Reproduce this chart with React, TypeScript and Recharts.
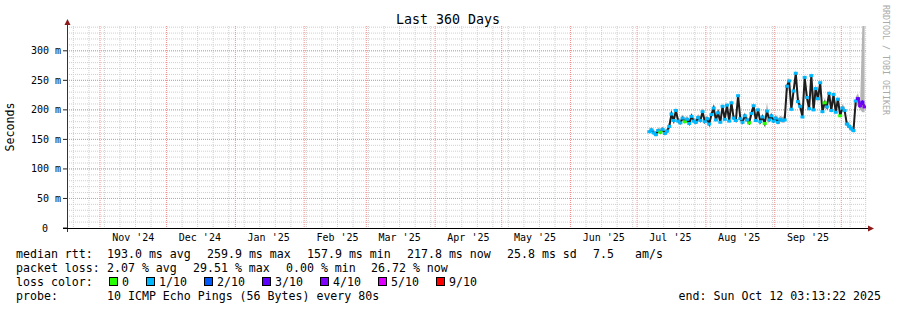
import React from 'react';
import { ComposedChart, XAxis, YAxis, Line, Area } from 'recharts';

const START = Date.UTC(2024, 9, 17, 3, 13, 22);
const END = Date.UTC(2025, 9, 12, 3, 13, 22);
const DAY = 86400000;
const FIRST_SAMPLE = Date.UTC(2025, 6, 6, 12);
const Y_MAX = 342;

// daily median rtt (ms), 2025-07-06 .. 2025-10-11
const medianRtt = [
  163, 166, 161, 158, 165, 162, 167, 160, 164, 172,
  193, 182, 199, 181, 178, 186, 180, 184, 177, 189,
  181, 179, 187, 182, 197, 180, 185, 176, 192, 203,
  183, 195, 179, 206, 184, 208, 181, 212, 186, 182,
  224, 185, 179, 190, 183, 178, 194, 207, 182, 200,
  180, 188, 177, 198, 183, 190, 181, 186, 179, 184,
  182, 183, 240, 249, 201, 232, 262, 214, 206, 188,
  255, 221, 202, 258, 200, 236, 219, 246, 197, 212,
  205, 228, 199, 226, 196, 218, 190, 203, 199, 176,
  172, 168, 165, 215, 219, 207, 213, 205,
];

// smoke (spread of the pings), upper and lower edge
const smokeHigh = [
  168, 171, 166, 164, 170, 168, 172, 166, 169, 180,
  199, 188, 205, 187, 184, 192, 186, 190, 183, 195,
  187, 185, 193, 188, 203, 186, 191, 182, 198, 209,
  189, 201, 185, 212, 190, 214, 187, 218, 192, 188,
  230, 191, 185, 196, 189, 184, 200, 213, 188, 206,
  186, 194, 183, 212, 189, 196, 187, 192, 185, 190,
  188, 190, 246, 255, 210, 240, 268, 222, 214, 196,
  261, 230, 210, 264, 230, 242, 228, 252, 206, 220,
  212, 234, 214, 232, 210, 224, 198, 210, 205, 182,
  178, 174, 171, 222, 228, 214, 342, 342,
];
const smokeLow = [
  159, 162, 157, 155, 161, 158, 163, 156, 160, 165,
  186, 178, 192, 177, 174, 182, 176, 180, 173, 184,
  177, 175, 182, 178, 190, 176, 181, 172, 187, 196,
  179, 190, 175, 199, 180, 200, 177, 204, 182, 178,
  214, 181, 175, 185, 179, 174, 189, 200, 178, 194,
  176, 183, 173, 192, 179, 185, 177, 182, 175, 180,
  178, 178, 228, 238, 196, 222, 250, 206, 200, 184,
  244, 212, 196, 246, 196, 226, 212, 236, 192, 206,
  200, 218, 194, 216, 192, 212, 186, 198, 194, 171,
  168, 164, 161, 205, 208, 200, 196, 196,
];

// packet loss per day, in tenths
const lossTenths = [
  1, 1, 1, 1, 1, 0, 1, 1, 1, 1,
  1, 1, 1, 1, 1, 1, 0, 1, 1, 1,
  1, 1, 1, 1, 1, 1, 1, 1, 1, 1,
  1, 1, 1, 1, 1, 1, 1, 1, 1, 1,
  1, 1, 1, 1, 1, 0, 1, 1, 1, 1,
  1, 1, 0, 1, 1, 1, 1, 1, 1, 1,
  1, 1, 1, 1, 1, 1, 1, 1, 1, 1,
  1, 1, 1, 1, 1, 1, 1, 1, 1, 0,
  1, 1, 1, 1, 1, 1, 0, 1, 1, 1,
  1, 1, 1, 1, 3, 4, 3, 4,
];

const lossColors: Record<number, string> = {
  0: '#26ff00', 1: '#00b8ff', 2: '#0059ff', 3: '#5e00ff', 4: '#7e00ff', 5: '#dd00ff', 9: '#ff0000',
};
const lossLegend = [
  { label: '0', tenths: 0 }, { label: '1/10', tenths: 1 }, { label: '2/10', tenths: 2 },
  { label: '3/10', tenths: 3 }, { label: '4/10', tenths: 4 }, { label: '5/10', tenths: 5 },
  { label: '9/10', tenths: 9 },
];

const monthStarts = [
  '2024-11-01', '2024-12-01', '2025-01-01', '2025-02-01', '2025-03-01', '2025-04-01',
  '2025-05-01', '2025-06-01', '2025-07-01', '2025-08-01', '2025-09-01', '2025-10-01',
];
const monthLabelDates = [
  '2024-11-16', '2024-12-16', '2025-01-16', '2025-02-16', '2025-03-16', '2025-04-16',
  '2025-05-16', '2025-06-16', '2025-07-16', '2025-08-16', '2025-09-16',
];
const monthLabels = [
  "Nov '24", "Dec '24", "Jan '25", "Feb '25", "Mar '25", "Apr '25",
  "May '25", "Jun '25", "Jul '25", "Aug '25", "Sep '25",
];
const yMajor = [0, 50, 100, 150, 200, 250, 300];

const rttStats = ['193.0 ms avg', '259.9 ms max', '157.9 ms min', '217.8 ms now', '25.8 ms sd', '7.5', 'am/s'];
const lossStats = ['2.07 % avg', '29.51 % max', '0.00 % min', '26.72 % now'];
const probeText = '10 ICMP Echo Pings (56 Bytes) every 80s';
const endLine = 'end: Sun Oct 12 03:13:22 2025';

const data = medianRtt.map((m, i) => ({
  t: FIRST_SAMPLE + i * DAY,
  median: m,
  smoke: [smokeLow[i], smokeHigh[i]],
  loss: lossTenths[i],
}));

const ts = (d: string) => Date.parse(d + 'T00:00:00Z');
const monthStartTs = monthStarts.map(ts);
const monthLabelTs = monthLabelDates.map(ts);
const weekTicks: number[] = [];
for (let t = ts('2024-10-20'); t < END; t += 7 * DAY) weekTicks.push(t);
const yMinor: number[] = [];
for (let v = 10; v <= 340; v += 10) yMinor.push(v);
const yRed = yMajor.filter((v) => v > 0);

const FONT = "'DejaVu Sans Mono', monospace";
const GRAY_GRID = '#cfcfcf';
const RED_GRID = '#f09090';

// plot box, matching the chart margins below
const MARGIN = { top: 26, right: 31, bottom: 62, left: 7 };
const Y_AXIS_W = 60;
const X_AXIS_H = 20;
const PLOT = {
  left: MARGIN.left + Y_AXIS_W,
  top: MARGIN.top,
  width: 897 - MARGIN.left - Y_AXIS_W - MARGIN.right,
  height: 310 - MARGIN.top - MARGIN.bottom - X_AXIS_H,
};
const gx = (t: number) => PLOT.left + ((t - START) / (END - START)) * PLOT.width;
const gy = (v: number) => PLOT.top + (1 - v / Y_MAX) * PLOT.height;

const LossDot = (props: any) => {
  const { cx, cy, payload, index } = props;
  if (cx == null || cy == null) return <g key={index} />;
  return <rect key={index} x={cx - 2} y={cy - 1.5} width={4} height={3} fill={lossColors[payload.loss]} />;
};

const YTick = ({ x, y, payload }: any) => (
  <text x={payload.value === 0 ? x - 13 : x} y={y} dy={3.5} textAnchor="end"
    fontFamily={FONT} fontSize={10} fill="#000">
    {payload.value === 0 ? '0' : `${payload.value} m`}
  </text>
);

const GridUnderlay = () => {
  const y0 = PLOT.top;
  const y1 = PLOT.top + PLOT.height;
  const x0 = PLOT.left;
  const x1 = PLOT.left + PLOT.width;
  const vLine = (t: number, c: string) => (
    <line key={c + t} x1={gx(t)} x2={gx(t)} y1={y0} y2={y1} stroke={c} strokeDasharray="1 1" />
  );
  const hLine = (v: number, c: string) => (
    <line key={c + v} x1={x0} x2={x1} y1={gy(v)} y2={gy(v)} stroke={c} strokeDasharray="1 1" />
  );
  return (
    <svg width={897} height={310} style={{ position: 'absolute', left: 0, top: 0 }}>
      {weekTicks.map((t) => vLine(t, GRAY_GRID))}
      {yMinor.map((v) => hLine(v, GRAY_GRID))}
      {monthStartTs.map((t) => vLine(t, RED_GRID))}
      {yRed.map((v) => hLine(v, RED_GRID))}
    </svg>
  );
};

const App = () => {
  const rttX = [107, 207, 307, 407, 507, 593, 635];
  const lossX = [107, 193, 286, 371];
  const legendX = [109, 146, 204, 262, 320, 378, 436];
  return (
    <div style={{ position: 'absolute', left: 0, top: 0, width: 897, height: 310, background: '#fff' }}>
      <GridUnderlay />
      <div style={{ position: 'absolute', left: 0, top: 0 }}>
        <ComposedChart width={897} height={310} data={data} margin={MARGIN}>
          <XAxis dataKey="t" type="number" domain={[START, END]} allowDataOverflow
            ticks={monthLabelTs} height={X_AXIS_H}
            tickFormatter={(v: number) => monthLabels[monthLabelTs.indexOf(v)] ?? ''}
            axisLine={false} tickLine={false} tickSize={0} tickMargin={6}
            tick={{ fontFamily: FONT, fontSize: 10, fill: '#000' }} />
          <YAxis type="number" domain={[0, Y_MAX]} ticks={yMajor} width={Y_AXIS_W} allowDataOverflow
            axisLine={false} tickLine={{ stroke: '#222' }} tickSize={4} tickMargin={2} tick={<YTick />} />
          <Area dataKey="smoke" stroke="none" fill="#b4b4b4" fillOpacity={1} isAnimationActive={false} />
          <Line dataKey="median" stroke="#1e1e1e" strokeWidth={2} dot={LossDot} activeDot={false}
            isAnimationActive={false} />
          <Line dataKey={(d: any) => (d.loss >= 3 ? d.median : null)}
            stroke={lossColors[4]} strokeWidth={2} dot={false} activeDot={false} isAnimationActive={false} />
        </ComposedChart>
      </div>
      <svg width={897} height={310} style={{ position: 'absolute', left: 0, top: 0, pointerEvents: 'none' }}
        fontFamily={FONT}>
        <text x={448} y={24} textAnchor="middle" fontSize={13.3} fill="#000">Last 360 Days</text>
        <text transform="translate(14,127) rotate(-90)" textAnchor="middle" fontSize={11.6} fill="#000">Seconds</text>
        <text transform="translate(883,5) rotate(90)" fontSize={8.3} fill="#aaa">RRDTOOL / TOBI OETIKER</text>
        <line x1={67.5} y1={22} x2={67.5} y2={232} stroke="#333" strokeWidth={1} />
        <line x1={63} y1={228.5} x2={870} y2={228.5} stroke="#000" strokeWidth={1} />
        <polygon points="64.5,25 70.5,25 67.5,19" fill="#8b1a1a" />
        <polygon points="868,225.5 868,231.5 874,228.5" fill="#8b1a1a" />
        <g fontSize={11.6} fill="#000">
          <text x={16} y={258}>median rtt:</text>
          {rttStats.map((s, i) => <text key={s} x={rttX[i]} y={258}>{s}</text>)}
          <text x={16} y={272}>packet loss:</text>
          {lossStats.map((s, i) => <text key={s} x={lossX[i]} y={272}>{s}</text>)}
          <text x={16} y={286}>loss color:</text>
          {lossLegend.map((l, i) => (
            <g key={l.label}>
              <rect x={legendX[i] + 0.5} y={277.5} width={8} height={8} fill={lossColors[l.tenths]} stroke="#000" strokeWidth={1} />
              <text x={legendX[i] + 13} y={286}>{l.label}</text>
            </g>
          ))}
          <text x={16} y={300}>probe:</text>
          <text x={107} y={300}>{probeText}</text>
          <text x={881} y={300} textAnchor="end">{endLine}</text>
        </g>
      </svg>
    </div>
  );
};

export default App;
